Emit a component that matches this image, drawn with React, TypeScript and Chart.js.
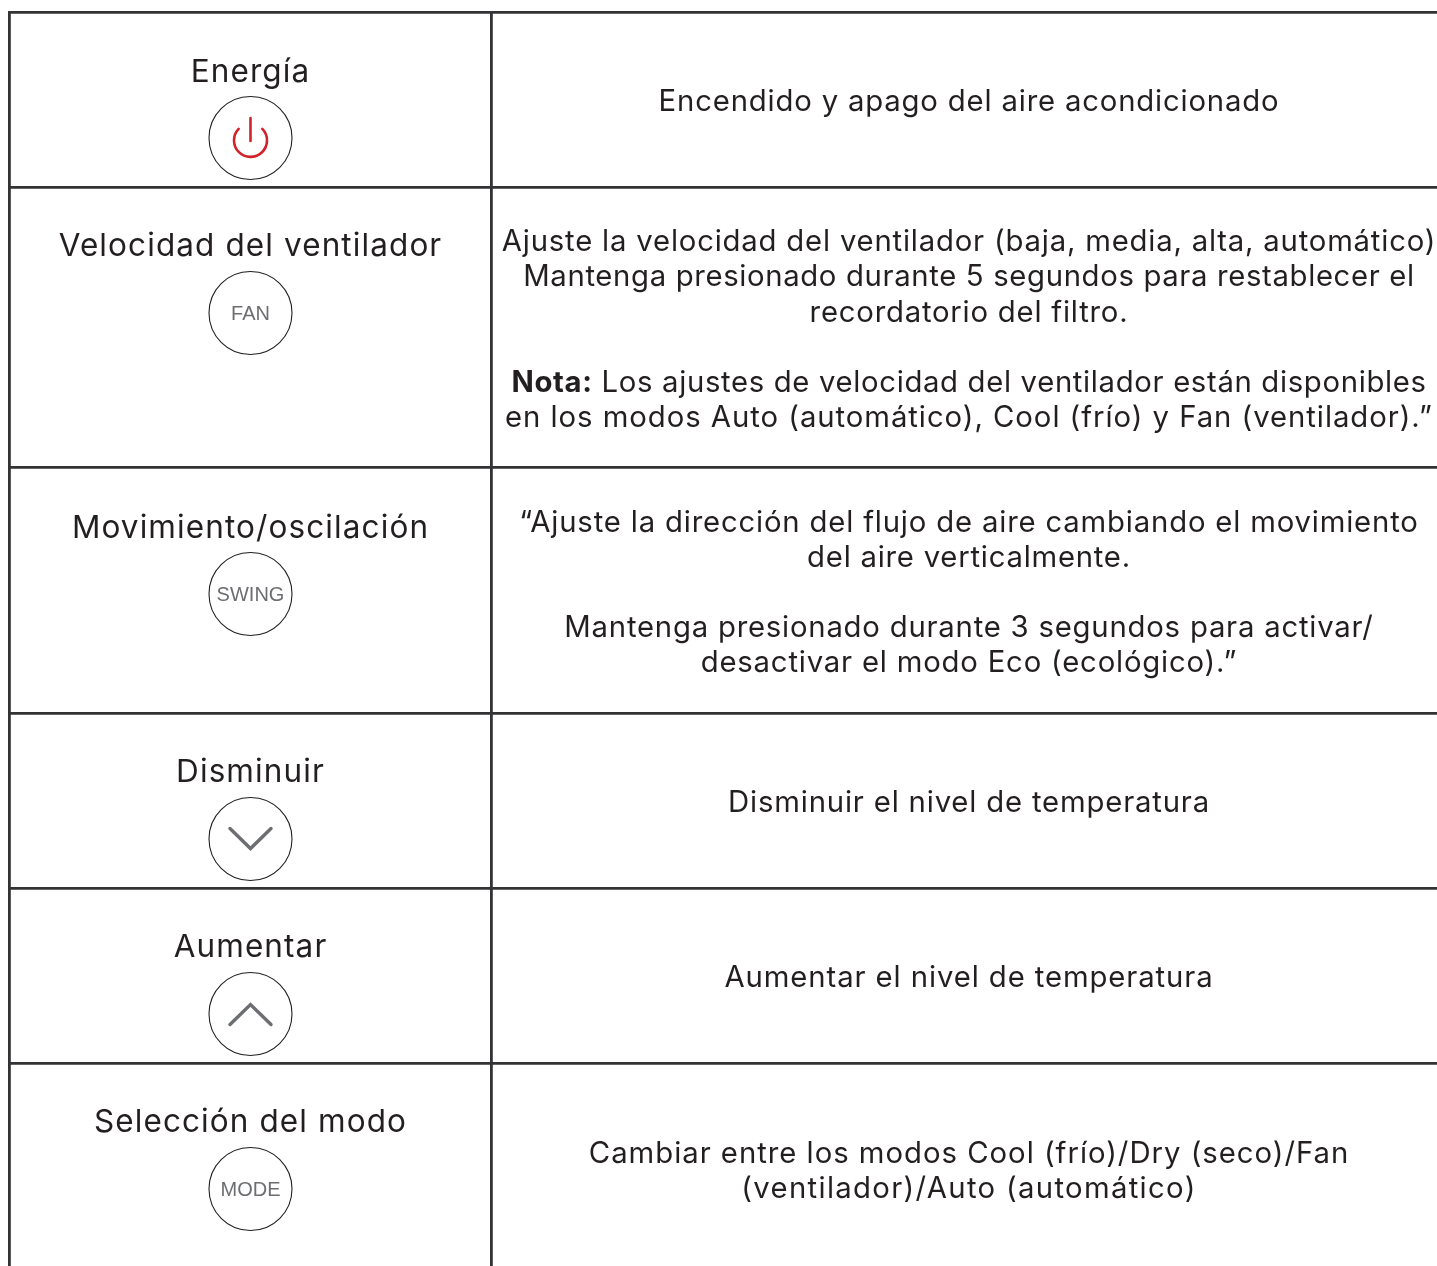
import React, { useEffect, useRef } from "react";
import { Chart, registerables } from "chart.js";

Chart.register(...registerables);

const functionNames = ["Energía", "Velocidad del ventilador", "Movimiento/oscilación", "Disminuir", "Aumentar", "Selección del modo"];
const buttonTexts = ["", "FAN", "SWING", "", "", "MODE"];
const buttonIcons = ["power", "", "", "down", "up", ""];
const rowBoundaries = [12.5, 187, 467, 713, 888, 1063];
const columnBoundaries = [9.5, 491.5];
const buttonCentres = [138, 313, 594, 839, 1014, 1189];
const nameBaselines = [82, 256, 537.5, 782, 957, 1132];
const descriptionLines = [
  "Encendido y apago del aire acondicionado",
  "Ajuste la velocidad del ventilador (baja, media, alta, automático)",
  "Mantenga presionado durante 5 segundos para restablecer el",
  "recordatorio del filtro.",
  "Nota:| Los ajustes de velocidad del ventilador están disponibles",
  "en los modos Auto (automático), Cool (frío) y Fan (ventilador).”",
  "“Ajuste la dirección del flujo de aire cambiando el movimiento",
  "del aire verticalmente.",
  "Mantenga presionado durante 3 segundos para activar/",
  "desactivar el modo Eco (ecológico).”",
  "Disminuir el nivel de temperatura",
  "Aumentar el nivel de temperatura",
  "Cambiar entre los modos Cool (frío)/Dry (seco)/Fan",
  "(ventilador)/Auto (automático)",
];
const descriptionBaselines = [111, 251, 286, 322, 392, 427, 532, 567, 637, 672, 812, 987, 1163, 1198];

const NAME_X = 250.5;
const DESC_X = 969;
const INK = "#231f20";
const GREY = "#6d6e71";
const FONT = "Inter";
// Per-line tracking, to fit the widths of the reference's wider typeface.
const lineTracking = [0.82, 0.8, 0.65, 0.78, 0.66, 0.95, 0.82, 0.76, 0.78, 0.8, 0.82, 0.9, 0.98, 1.32];

const tablePlugin = {
  id: "tableText",
  afterDatasetsDraw(chart: any) {
    const { ctx, scales } = chart;
    const px = (v: number) => scales.x.getPixelForValue(v);
    const py = (v: number) => scales.y.getPixelForValue(v);
    ctx.save();
    ctx.textBaseline = "alphabetic";
    ctx.textAlign = "center";
    ctx.fillStyle = INK;

    ctx.font = `400 31.5px ${FONT}`;
    ctx.letterSpacing = "1.1px";
    functionNames.forEach((t, i) => ctx.fillText(t, px(NAME_X), py(nameBaselines[i])));

    ctx.font = `400 20px "Liberation Sans"`;
    ctx.letterSpacing = "0px";
    ctx.fillStyle = GREY;
    buttonTexts.forEach((t, i) => {
      if (t) ctx.fillText(t, px(NAME_X), py(buttonCentres[i]) + 7);
    });

    descriptionLines.forEach((line, i) => {
      const y = py(descriptionBaselines[i]);
      ctx.letterSpacing = `${lineTracking[i]}px`;
      ctx.fillStyle = INK;
      const parts = line.split("|");
      ctx.font = `400 29.3px ${FONT}`;
      if (parts.length === 1) {
        ctx.textAlign = "center";
        ctx.fillText(line, px(DESC_X), y);
      } else {
        const rest = ctx.measureText(parts[1]).width;
        ctx.font = `700 29.3px ${FONT}`;
        const bold = ctx.measureText(parts[0]).width;
        const start = px(DESC_X) - (rest + bold) / 2;
        ctx.textAlign = "left";
        ctx.fillText(parts[0], start, y);
        ctx.font = `400 29.3px ${FONT}`;
        ctx.fillText(parts[1], start + bold, y);
      }
    });

    ctx.lineCap = "round";
    ctx.lineJoin = "miter";
    buttonIcons.forEach((icon, i) => {
      const cx = px(NAME_X);
      const cy = py(buttonCentres[i]);
      ctx.beginPath();
      if (icon === "power") {
        ctx.strokeStyle = "#d2232a";
        ctx.lineWidth = 2.6;
        ctx.moveTo(cx, cy - 20);
        ctx.lineTo(cx, cy + 3);
        ctx.stroke();
        ctx.beginPath();
        ctx.arc(cx, cy + 2.4, 16.5, -Math.PI / 2 + 0.8, -Math.PI / 2 - 0.8, false);
      } else if (icon) {
        const s = icon === "down" ? 1 : -1;
        ctx.strokeStyle = GREY;
        ctx.lineWidth = 3.4;
        ctx.moveTo(cx - 20.5, cy - 10.5 * s);
        ctx.lineTo(cx, cy + 9.5 * s);
        ctx.lineTo(cx + 20.5, cy - 10.5 * s);
      }
      if (icon) ctx.stroke();
    });
    ctx.restore();
  },
};

export default function App() {
  const ref = useRef<HTMLCanvasElement>(null);
  useEffect(() => {
    const chart = new Chart(ref.current!, {
      type: "scatter",
      data: {
        datasets: [
          {
            label: "Botones",
            data: buttonCentres.map((y) => ({ x: NAME_X, y })),
            pointRadius: 41.5,
            pointHoverRadius: 41.5,
            pointBackgroundColor: "#ffffff",
            pointBorderColor: "#231f20",
            pointBorderWidth: 1.1,
          },
        ],
      },
      options: {
        animation: false,
        responsive: false,
        events: [],
        layout: { autoPadding: false, padding: { left: 8, top: 11, right: 0, bottom: 0 } },
        plugins: { legend: { display: false }, tooltip: { enabled: false }, title: { display: false } },
        scales: {
          x: {
            type: "linear",
            min: 8,
            max: 1437,
            afterBuildTicks: (s: any) => {
              s.ticks = columnBoundaries.map((value) => ({ value }));
            },
            ticks: { display: false },
            border: { display: false },
            grid: { color: "#333335", lineWidth: 2.8, drawTicks: false },
          },
          y: {
            type: "linear",
            reverse: true,
            min: 11,
            max: 1266,
            afterBuildTicks: (s: any) => {
              s.ticks = rowBoundaries.map((value) => ({ value }));
            },
            ticks: { display: false },
            border: { display: false },
            grid: { color: "#333335", lineWidth: 2.8, drawTicks: false },
          },
        },
      },
      plugins: [tablePlugin],
    } as any);
    return () => chart.destroy();
  }, []);
  return (
    <canvas
      ref={ref}
      width={1437}
      height={1266}
      style={{ position: "absolute", left: 0, top: 0, width: 1437, height: 1266, display: "block" }}
    />
  );
}
